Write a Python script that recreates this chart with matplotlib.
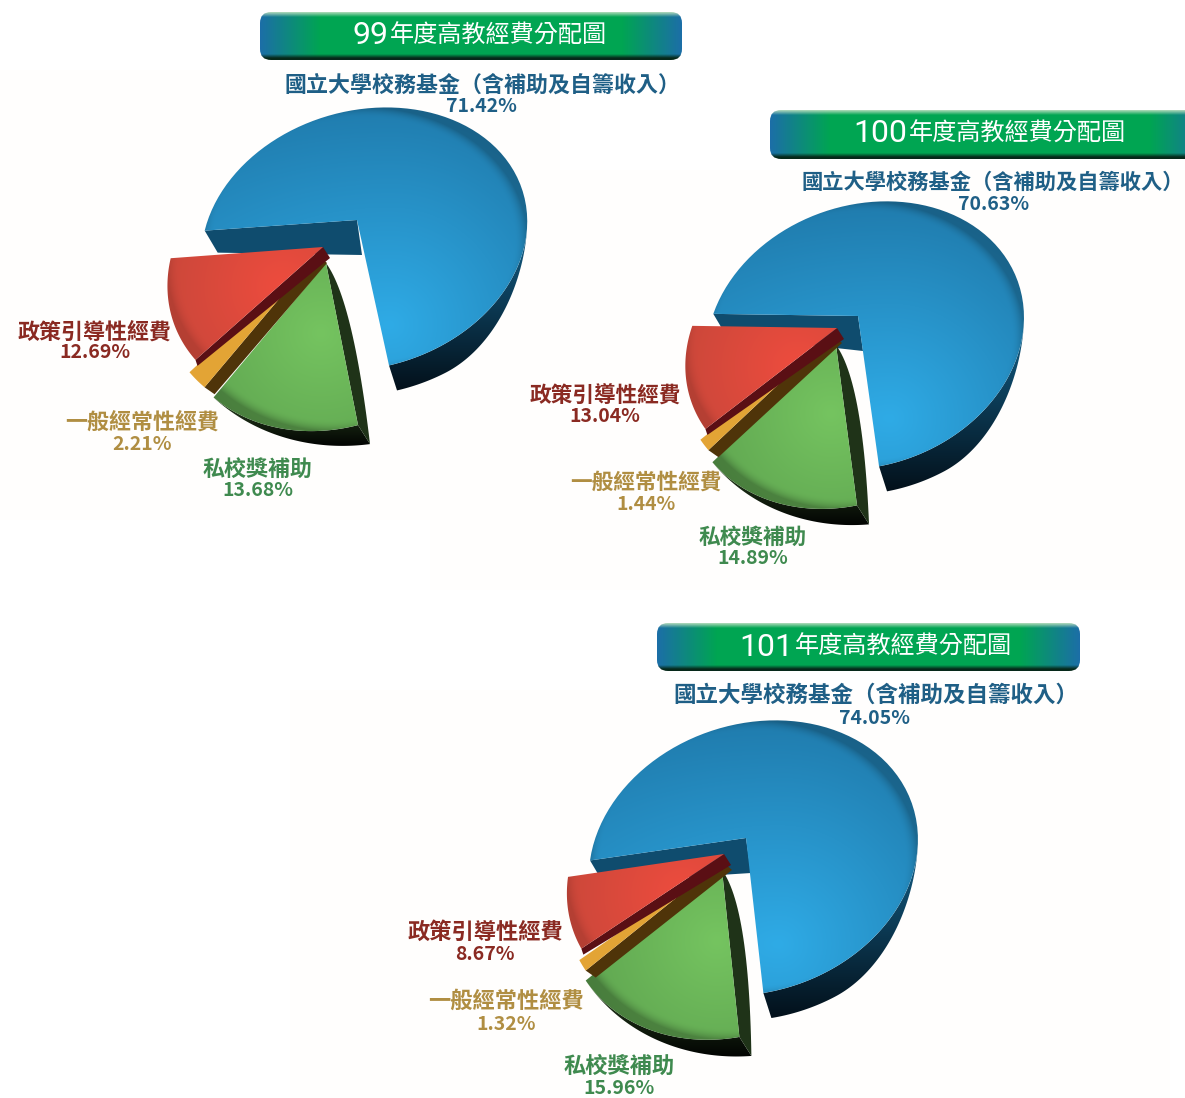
import numpy as np
import matplotlib
matplotlib.use('Agg')
import matplotlib.pyplot as plt
from matplotlib.patches import Polygon, FancyBboxPatch, Rectangle
from matplotlib.colors import to_rgb

plt.rcParams['font.family'] = ['Noto Sans CJK TC', 'DejaVu Sans']

years = ['99', '100', '101']
title_rest = '年度高教經費分配圖'
categories = ['國立大學校務基金（含補助及自籌收入）', '政策引導性經費', '一般經常性經費', '私校獎補助']
shares_99 = [71.42, 12.69, 2.21, 13.68]
shares_100 = [70.63, 13.04, 1.44, 14.89]
shares_101 = [74.05, 8.67, 1.32, 15.96]
all_shares = [shares_99, shares_100, shares_101]

label_colors = ['#1f5f86', '#8a2a22', '#b08e42', '#3f8a4f']

# where each pie sits on the page
layouts = [
    dict(t0=175, s=1.0, blue_sy=1.005, blue=(357, 220), red=(323, 247), orange=(317, 254), green=(326, 263),
         banner=(260, 12, 422, 48), digit_x=388, label_size=15.8, top_size=15.8,
         labels=[(482, 85), (95, 332), (142, 422), (258, 469)],
         values=[(481, 107), (95, 353), (142, 444), (258, 491)]),
    dict(t0=181, s=0.975, blue_sy=1.05, blue=(858, 316), red=(837, 328), orange=(832, 334), green=(836, 345),
         banner=(770, 110, 440, 49), digit_x=907, label_size=15.6, top_size=15.3,
         labels=[(993, 182), (605, 395), (646, 482), (753, 537)],
         values=[(994, 204), (605, 417), (646, 504), (753, 559)]),
    dict(t0=170, s=1.01, blue_sy=1.04, blue=(746, 838), red=(724, 854), orange=(722, 861), green=(722, 870),
         banner=(657, 623, 423, 48), digit_x=793, label_size=16.0, top_size=16.2,
         labels=[(876, 695), (485, 932), (506, 1001), (619, 1066)],
         values=[(875, 718), (485, 955), (506, 1024), (619, 1089)]),
]

fig = plt.figure(figsize=(11.85, 10.98), dpi=100)
ax = fig.add_axes([0, 0, 1, 1])
z = [2]


def warp(t, apex, s, sy=1.0):
    # unit circle seen in perspective, nearer edge bigger
    x = np.cos(np.radians(t))
    y = np.sin(np.radians(t))
    w = 1 - 0.066 * x - 0.145 * y
    px = apex[0] + s * (159 * x - 23 * y) / w
    py = apex[1] + s * sy * 128 * y / w
    return np.column_stack([px, py])


def arc(t1, t2, apex, s, sy=1.0):
    return warp(np.linspace(t1, t2, 80), apex, s, sy)


def paint(poly, colorfunc):
    poly = np.asarray(poly)
    x0, y0 = np.floor(poly.min(axis=0))
    x1, y1 = np.ceil(poly.max(axis=0))
    X, Y = np.meshgrid(np.arange(x0, x1 + 1) + .5, np.arange(y0, y1 + 1) + .5)
    im = ax.imshow(colorfunc(X, Y), extent=(x0, x1 + 1, y1 + 1, y0), aspect='auto', zorder=z[0], interpolation='bilinear')
    im.set_clip_path(Polygon(poly, closed=True, transform=ax.transData))
    z[0] += 1


def mix(c1, c2, f):
    c1 = np.array(to_rgb(c1))
    c2 = np.array(to_rgb(c2))
    f = np.clip(f, 0, 1)[..., None]
    return c1 * (1 - f) + c2 * f


def rim_dark(X, Y, apex, s, sy, amount):
    full = warp(np.linspace(0, 360, 200), apex, s, sy)
    cx, cy = (full.min(axis=0) + full.max(axis=0)) / 2
    rx, ry = (full.max(axis=0) - full.min(axis=0)) / 2
    r = np.hypot((X - cx) / rx, (Y - cy) / ry)
    return 1 - amount * np.clip((r - 0.92) / 0.08, 0, 1)[..., None] ** 2


def top_face(poly, apex, s, sy, light, dark, lp, norm, left=1.0, amount=0.3):
    def f(X, Y):
        lx, ly = apex[0] + lp[0] * s, apex[1] + lp[1] * s
        dx = X - lx
        dx = np.where(dx < 0, dx * left, dx)
        d = np.hypot(dx, Y - ly) / (norm * s)
        return np.clip(mix(light, dark, d) * rim_dark(X, Y, apex, s, sy, amount), 0, 1)
    paint(poly, f)


def flat(poly, color):
    ax.fill(*np.asarray(poly).T, color=color, lw=0, zorder=z[0])
    z[0] += 1


def vgrad(poly, c1, c2):
    poly = np.asarray(poly)
    y0, y1 = poly[:, 1].min(), poly[:, 1].max()
    paint(poly, lambda X, Y: mix(c1, c2, (Y - y0) / (y1 - y0)))


def draw_pie(shares, lay):
    s = lay['s']
    deg = [v * 3.6 for v in shares]
    t0 = lay['t0']
    b_end = t0 + deg[0]
    g_end = b_end + deg[3]
    o_end = g_end + deg[2]
    r_end = o_end + deg[1]

    # blue slice: cut wall, outer wall, top
    a = np.array(lay['blue'])
    bs = lay['blue_sy']
    tip = warp(np.array([t0]), a, s, bs)[0]
    flat([tip, a, a + [5, 35], tip + [13, 22]], '#0f4c6e')
    ts = np.linspace(362, b_end, 100)
    rim = warp(ts, a, s, bs)
    u = np.clip((ts - 362) / 55, 0, 1)
    taper = (u * u * (3 - 2 * u))[:, None]
    vgrad(np.vstack([rim, (rim + taper * [8, 25])[::-1]]), '#14618a', '#03101a')
    top_face(np.vstack([a, arc(t0, b_end, a, s, bs)]), a, s, bs, '#2fabe6', '#1f79aa', (33, 105), 235, left=0.6, amount=0.22)

    # green slice
    a = np.array(lay['green'])
    sy = 1.12
    rim = arc(b_end, g_end, a, s, sy)
    bottom = rim + np.linspace(1, 0, 80)[:, None] * [12, 19]
    vgrad(np.vstack([rim, bottom[::-1]]), '#2a4420', '#020402')
    # side wall bows out to the right
    end = rim[0] + [12, 19]
    u = np.linspace(0, 1, 30)[:, None]
    side = (1 - u) ** 2 * a + 2 * u * (1 - u) * (a + [27, 37]) + u ** 2 * end
    flat(np.vstack([side, rim[0]]), '#1f3318')
    top_face(np.vstack([a, rim]), a, s, sy, '#75c460', '#5fa550', (-5, 70), 140, amount=0.25)

    # orange slice
    a = np.array(lay['orange'])
    sy = 1.11
    rim = arc(g_end, o_end, a, s, sy)
    flat([a, a + [10, 9], rim[0] + [10, 7], rim[0]], '#4f3409')
    flat(np.vstack([a, rim]), '#e3a435')

    # red slice
    a = np.array(lay['red'])
    sy = 1.06
    rim = arc(o_end, r_end, a, s, sy)
    flat([a, a + [7, 11], rim[0] + [2, 6], rim[0]], '#5a0f14')
    top_face(np.vstack([a, rim]), a, s, sy, '#ee4c3e', '#c8473a', (-40, 40), 130, amount=0.12)


def draw_banner(lay, year):
    x, y, w, h = lay['banner']
    xs = np.arange(w) + .5
    ys = np.arange(h) + .5
    X, Y = np.meshgrid(xs, ys)
    side = np.minimum(X, w - X)
    rgb = mix('#1c6ea8', '#00a552', side / 60)
    top = np.clip(1 - Y / 5, 0, 1)[..., None]
    rgb = rgb * (1 - top) + np.array(to_rgb('#b5dcbc')) * top
    low = np.clip((Y - (h - 6)) / 4, 0, 1)[..., None]
    rgb = rgb * (1 - low) + np.array(to_rgb('#06291a')) * low
    im = ax.imshow(rgb, extent=(x, x + w, y + h, y), aspect='auto', zorder=z[0])
    box = FancyBboxPatch((x + 9, y + 9), w - 18, h - 18, boxstyle='round,pad=9,rounding_size=11',
                         transform=ax.transData, fc='none', ec='none')
    ax.add_patch(box)
    im.set_clip_path(box)
    z[0] += 1
    ax.text(lay['digit_x'], y + 24, year, color='white', fontsize=23, ha='right', va='center',
            family=['Roboto', 'DejaVu Sans'], zorder=50)
    ax.text(lay['digit_x'] + 2, y + 24, title_rest, color='white', fontsize=17.4, fontweight='light', ha='left', va='center', zorder=50)


# faint off-white paper behind the pies
for r in [(0, 70, 560, 450), (430, 170, 755, 420), (290, 690, 880, 408)]:
    ax.add_patch(Rectangle((r[0], r[1]), r[2], r[3], fc='#fffefd', ec='none', zorder=1))

for shares, lay, year in zip(all_shares, layouts, years):
    draw_banner(lay, year)
    draw_pie(shares, lay)
    for i in range(4):
        size = lay['top_size'] if i == 0 else lay['label_size']
        ax.text(*lay['labels'][i], categories[i], color=label_colors[i], fontsize=size, fontweight='bold',
                ha='center', va='center', zorder=60)
        ax.text(*lay['values'][i], f'{shares[i]:.2f}%', color=label_colors[i], fontsize=14, fontweight='bold',
                ha='center', va='center', zorder=60)

ax.set_xlim(0, 1185)
ax.set_ylim(1098, 0)
ax.axis('off')
fig.savefig('out.png', dpi=100, facecolor='white')
